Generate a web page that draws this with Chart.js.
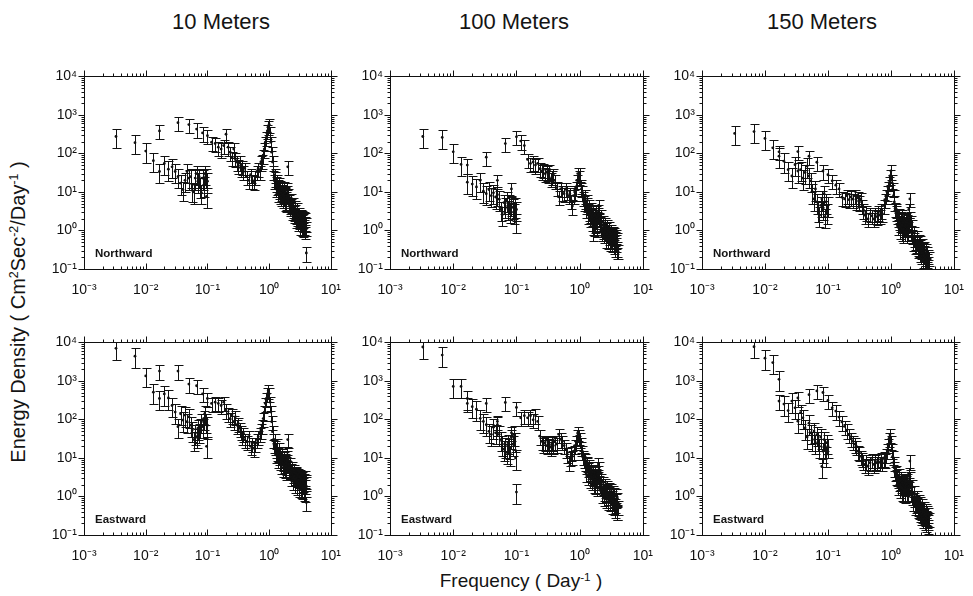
<!DOCTYPE html>
<html>
<head>
<meta charset="utf-8">
<script src="https://cdn.jsdelivr.net/npm/chart.js"></script>
<style>
  body { margin: 0; background: #fff; }
  #page { position: relative; width: 973px; height: 596px; overflow: hidden;
          font-family: "Liberation Sans", Arial, Helvetica, sans-serif; color: #141414; }
  .panel { position: absolute; }
  .title { position: absolute; top: 9px; font-size: 22px; line-height: 26px; white-space: nowrap; transform: translateX(-50%); }
  .tag { position: absolute; font-size: 11.5px; font-weight: bold; line-height: 1; white-space: nowrap; }
  #ytitle { position: absolute; left: 18px; top: 312px; font-size: 20px; white-space: nowrap;
            transform: translate(-50%, -50%) rotate(-90deg); }
  #xtitle { position: absolute; left: 521px; top: 570px; font-size: 19px; line-height: 22px; white-space: nowrap;
            transform: translateX(-50%); }
  sup { font-size: 62%; vertical-align: 0.55em; line-height: 0; }
</style>
</head>
<body>
<div id="page">
  <div class="title" style="left:221px">10 Meters</div>
  <div class="title" style="left:514px">100 Meters</div>
  <div class="title" style="left:822px">150 Meters</div>
  <div id="ytitle">Energy Density ( Cm<sup>2</sup>Sec<sup>-2</sup>/Day<sup>-1</sup> )</div>
  <div id="xtitle">Frequency ( Day<sup>-1</sup> )</div>
</div>
<script>
// tick labels
const xTickValues = [0.001, 0.01, 0.1, 1, 10];
const xTickLabels = ["10⁻³", "10⁻²", "10⁻¹", "10⁰", "10¹"];
const yTickValues = [0.1, 1, 10, 100, 1000, 10000];
const yTickLabels = ["10⁻¹", "10⁰", "10¹", "10²", "10³", "10⁴"];

// frequencies (Day^-1): fine-resolution band, coarse band, and extra high-frequency estimates
const freqA = [0.0033, 0.0067, 0.01, 0.0133, 0.0167, 0.02, 0.0233, 0.0267, 0.03, 0.0333,
  0.0367, 0.04, 0.0433, 0.0467, 0.05, 0.0533, 0.0567, 0.06, 0.0633, 0.0667,
  0.07, 0.0733, 0.0767, 0.08, 0.0833, 0.0867, 0.09, 0.0933, 0.0967, 0.1];
const freqB = [0.0167, 0.0333, 0.05, 0.0667, 0.0833, 0.1, 0.1167, 0.1333, 0.15, 0.1667,
  0.1833, 0.2, 0.2167, 0.2333, 0.25, 0.2667, 0.2833, 0.3, 0.3167, 0.3333, 0.35, 0.3667, 0.3833, 0.4,
  0.4333, 0.4667, 0.5, 0.5333, 0.5667, 0.6, 0.6333, 0.6667, 0.7, 0.7333, 0.7667, 0.8,
  0.8333, 0.8667, 0.9, 0.9333, 0.9667, 1.0, 1.0333, 1.0667, 1.1, 1.1333, 1.1667, 1.2,
  1.25, 1.3, 1.35, 1.4, 1.45, 1.5, 1.55, 1.6, 1.65, 1.7, 1.75, 1.8, 1.85, 1.9, 1.95, 2.0, 2.05,
  2.1, 2.2, 2.3, 2.4, 2.5, 2.6, 2.7, 2.8, 2.9, 3.0, 3.1, 3.2, 3.3, 3.4, 3.5, 3.6, 3.7, 3.8, 3.9, 4.0];
const freqC = [1.225, 1.275, 1.325, 1.375, 1.425, 1.475, 1.525, 1.575, 1.625, 1.675, 1.725, 1.775,
  1.825, 1.875, 1.925, 1.975, 2.15, 2.25, 2.35, 2.45, 2.55, 2.65, 2.75, 2.85, 2.95, 3.05, 3.15,
  3.25, 3.35, 3.45, 3.55, 3.65, 3.75, 3.85, 3.95];

// confidence limits (lower, upper factor)
const ciA = [0.5, 1.6];
const ciB = [0.6, 1.4];

// Northward
const north10A = [275, 190, 115, 65, 34, 55, 39, 45, 34, 25, 17, 11.5, 20, 34, 23, 25, 11, 10, 23, 30,
  19, 25, 14, 9.5, 23, 15, 30, 25, 7.7, 19];
const north10B = [385, 630, 560, 430, 340, 290, 195, 180, 145, 130, 160, 315, 145, 108, 80, 130, 72, 60, 49, 60, 41, 45, 34, 41,
  25, 20, 28, 20, 18.5, 25, 34, 41, 34, 60, 66, 90, 130, 195, 260, 385, 510, 570, 350, 195, 108, 60, 34, 20,
  23, 17, 14, 15, 11, 12.5, 9.5, 12.5, 8.5, 10.5, 7, 9.5, 5.8, 7, 12.5, 45, 8.5,
  5.8, 4.0, 4.7, 3.6, 3.0, 3.3, 2.4, 2.2, 2.7, 2.0, 1.8, 2.2, 1.6, 1.8, 1.5, 1.9, 1.3, 1.6, 1.5, 0.26];
const north10C = [28, 12, 20, 9, 16, 8, 14, 7, 11, 6.5, 13, 5.5, 9, 5, 8, 10,
  4.5, 6.5, 3.2, 5, 2.6, 4.2, 1.9, 3.6, 1.6, 2.8, 1.3, 2.5, 1.2, 2.3, 1.1, 2.1, 1.0, 2.0, 1.2];
const north100A = [275, 260, 110, 52, 18, 16, 13.5, 20, 10.5, 9, 11.5, 8, 9.5, 7.4, 8.5, 6.5, 3.5, 2.6, 5.3, 4.3,
  6.2, 3.7, 5.3, 3.2, 4.8, 4, 3, 4.3, 1.7, 3.5];
const north100B = [50, 80, 20, 180, 12, 270, 210, 160, 70, 55, 60, 50, 55, 40, 35, 38, 30, 33, 28, 35, 22, 25, 28, 20,
  13, 7.5, 12, 10, 9, 12, 10.5, 8, 9, 6, 4.3, 8, 10, 13, 20, 30, 25, 30, 15, 12, 10, 7, 5.5, 6,
  4.5, 5, 3.5, 3, 2.6, 3, 2.2, 1.3, 0.9, 2.0, 2.5, 1.8, 2.2, 1.5, 2.7, 4.5, 2.0,
  1.6, 1.3, 1.0, 1.2, 0.9, 1.1, 0.8, 1.0, 0.7, 0.9, 0.6, 0.8, 0.55, 0.7, 0.5, 0.65, 0.45, 0.55, 0.35, 0.3];
const north100C = [8, 3.5, 6, 2.5, 4.5, 2, 3.8, 1.6, 3.2, 1.2, 2.8, 1.4, 3, 1.1, 2.4, 3.2,
  2.4, 0.9, 1.7, 0.8, 1.5, 0.6, 1.3, 0.55, 1.2, 0.5, 1.0, 0.45, 0.9, 0.4, 0.85, 0.35, 0.75, 0.3, 0.6];
const north150A = [330, 370, 245, 140, 85, 63, 38, 26, 51, 35, 38, 23, 32, 47, 26, 19.5, 10, 6.6, 12, 5.5,
  3.4, 2.5, 4.5, 6.6, 3.7, 9, 2.3, 5.5, 3, 4.5];
const north150B = [110, 112, 85, 59, 35, 28, 19.5, 15, 12, 7.3, 6.6, 8, 6.3, 7.4, 6.5, 8, 5.8, 7, 5.5, 6.6, 4.5, 3.4, 2.5, 3,
  2.0, 2.7, 2.4, 2.0, 2.7, 2.3, 3, 2.5, 3.4, 2.7, 4.5, 6.3, 8, 10, 13, 17.5, 26, 35, 20, 12, 8, 5.5, 3.7, 3.0,
  2.5, 2.0, 1.7, 1.5, 1.9, 1.4, 1.6, 1.1, 1.3, 1.4, 1.2, 1.1, 1.3, 1.2, 1.5, 6.6, 1.7,
  0.95, 0.75, 0.62, 0.52, 0.44, 0.48, 0.37, 0.34, 0.4, 0.31, 0.26, 0.34, 0.22, 0.28, 0.2, 0.26, 0.18, 0.22, 0.15, 0.2];
const north150C = [3.5, 1.3, 2.6, 1.0, 2.2, 0.9, 2.4, 0.8, 1.9, 0.9, 2.0, 0.8, 1.8, 0.9, 3.5, 2.2,
  1.3, 0.5, 0.9, 0.4, 0.7, 0.33, 0.55, 0.26, 0.5, 0.22, 0.42, 0.18, 0.36, 0.15, 0.32, 0.13, 0.26, 0.12, 0.22];

// Eastward
const east10A = [7000, 4400, 1350, 510, 350, 460, 360, 230, 155, 65, 140, 96, 130, 87, 117, 71, 53, 30, 44, 36,
  59, 48, 65, 87, 65, 105, 140, 87, 20, 71];
const east10B = [1800, 1800, 830, 750, 460, 350, 260, 280, 260, 230, 280, 175, 140, 105, 130, 87, 117, 71, 78, 59, 48, 36, 44, 30,
  27, 36, 20, 24, 18, 24, 30, 36, 44, 53, 71, 105, 155, 260, 350, 460, 560, 460, 280, 155, 87, 48, 30, 22,
  20, 17, 14, 13, 11, 12, 9, 11, 7.5, 9, 6.8, 8, 6.2, 7.5, 8.5, 30, 7,
  5.5, 4.6, 5, 3.8, 4.2, 3.4, 3.9, 3.0, 3.5, 2.7, 3.2, 2.4, 2.9, 2.1, 2.6, 2.2, 2.8, 1.9, 2.3, 0.7];
const east10C = [30, 12, 22, 9, 17, 8, 14, 6.5, 12, 5.5, 10, 5, 9, 4.5, 11, 14,
  7, 3.2, 5.5, 2.5, 4.8, 2.0, 4.2, 1.8, 3.8, 1.6, 3.4, 1.5, 3.0, 1.4, 2.8, 1.3, 3.2, 1.2, 2.6];
const east100A = [7600, 4700, 720, 720, 350, 215, 185, 107, 89, 73, 49, 41, 63, 45, 73, 41, 30, 23, 17, 20.5,
  14, 25, 19, 12.6, 34, 23, 41, 28, 10, 1.3];
const east100B = [260, 260, 89, 275, 45, 205, 110, 125, 110, 125, 98, 130, 89, 37, 27, 23, 25, 21, 27, 22, 19, 25, 21, 27,
  23, 41, 31, 27, 21, 17, 12.6, 7.8, 10.3, 14, 11, 15, 21, 27, 37, 45, 37, 31, 23, 19, 15, 11, 9.4, 7.7,
  6.3, 7, 5.2, 5.7, 4.3, 4.8, 3.7, 4.3, 3.2, 3.5, 2.7, 3.2, 2.4, 2.9, 3.5, 5.7, 2.7,
  2.0, 1.7, 1.8, 1.3, 1.5, 1.2, 1.4, 1.0, 1.25, 1.0, 1.15, 0.82, 1.0, 0.74, 0.9, 0.62, 0.82, 0.56, 0.42, 0.56];
const east100C = [9, 4, 7.5, 3.3, 6.2, 2.8, 5.5, 2.4, 4.8, 2.1, 4.2, 1.9, 3.6, 1.7, 4.5, 7,
  2.8, 1.1, 2.3, 0.95, 2.0, 0.85, 1.8, 0.75, 1.6, 0.7, 1.5, 0.6, 1.3, 0.55, 1.2, 0.45, 1.1, 0.4, 0.9];
const east150A = [null, 7700, 3900, 3000, 1100, 250, 170, 300, 200, 90, 150, 110, 60, 35, 80, 45, 30, 50, 25, 40,
  30, 20, 35, 6, 15, 30, 20, 12, 25, 20];
const east150B = [300, 360, 440, 550, 500, 310, 200, 165, 115, 86, 66, 53, 40, 32, 27, 23, 20, 15, 13.5, 11, 9.5, 8.3, 6.8, 8.3,
  6.2, 7.5, 9.1, 6.8, 8.3, 7.5, 9.1, 7.7, 9.5, 7.5, 10, 9, 12, 16, 22, 32, 40, 27, 16, 11, 7.5, 5.5, 4.1, 3.4,
  3.1, 2.8, 2.3, 2.5, 2.1, 2.3, 2.0, 1.9, 1.8, 1.7, 1.9, 2.1, 1.8, 1.9, 2.2, 8.3, 1.9,
  1.3, 1.0, 0.87, 0.72, 0.61, 0.66, 0.52, 0.44, 0.49, 0.40, 0.35, 0.40, 0.30, 0.33, 0.28, 0.30, 0.25, 0.28, 0.23, 0.27];
const east150C = [4.5, 1.8, 3.6, 1.5, 3.0, 1.3, 2.8, 1.2, 2.6, 1.1, 2.5, 1.2, 2.7, 1.3, 4, 3,
  1.9, 0.7, 1.3, 0.55, 1.0, 0.45, 0.8, 0.36, 0.7, 0.3, 0.6, 0.26, 0.5, 0.22, 0.45, 0.2, 0.4, 0.18, 0.35];

const ink = "#111";
const fontFamily = '"Liberation Sans", Arial, Helvetica, sans-serif';

// plot-area boxes [left, top, width, height] in page pixels
const panels = [
  { box: [84, 73, 256, 196], a: north10A, b: north10B, c: north10C, tag: "Northward" },
  { box: [390, 73, 262, 196], a: north100A, b: north100B, c: north100C, tag: "Northward" },
  { box: [702, 73, 261, 196], a: north150A, b: north150B, c: north150C, tag: "Northward" },
  { box: [84, 339, 256, 196], a: east10A, b: east10B, c: east10C, tag: "Eastward" },
  { box: [390, 339, 262, 196], a: east100A, b: east100B, c: east100C, tag: "Eastward" },
  { box: [702, 339, 261, 196], a: east150A, b: east150B, c: east150C, tag: "Eastward" },
];
const padL = 50, padT = 12, padR = 14, padB = 36;

function toPoints(freqs, vals, ci) {
  const pts = [];
  freqs.forEach((f, i) => {
    const v = vals[i];
    if (v == null) return;
    pts.push({ x: f, y: v, lo: v * ci[0], hi: v * ci[1] });
  });
  return pts;
}

// error bars (drawn under the dots), box frame and log tick marks
const errorBars = {
  id: "errorBars",
  beforeDatasetsDraw(chart) {
    const { ctx, chartArea: ca, scales: { x, y } } = chart;
    ctx.save();
    ctx.beginPath();
    ctx.rect(ca.left, ca.top, ca.right - ca.left, ca.bottom - ca.top);
    ctx.clip();
    ctx.strokeStyle = ink;
    ctx.lineWidth = 1;
    ctx.beginPath();
    chart.data.datasets.forEach(ds => {
      ds.data.forEach(p => {
        const px = Math.round(x.getPixelForValue(p.x)) + 0.5;
        const y1 = Math.round(y.getPixelForValue(p.hi)) + 0.5;
        const y2 = Math.round(y.getPixelForValue(p.lo)) + 0.5;
        ctx.moveTo(px, y1); ctx.lineTo(px, y2);
        ctx.moveTo(px - 4, y1); ctx.lineTo(px + 5, y1);
        ctx.moveTo(px - 4, y2); ctx.lineTo(px + 5, y2);
      });
    });
    ctx.stroke();
    ctx.restore();
  },
  afterDraw(chart) {
    const { ctx, chartArea: ca, scales: { x, y } } = chart;
    const L = Math.round(ca.left) + 0.5, R = Math.round(ca.right) + 0.5;
    const T = Math.round(ca.top) + 0.5, B = Math.round(ca.bottom) + 0.5;
    ctx.save();
    ctx.strokeStyle = ink;
    ctx.lineWidth = 1;
    ctx.strokeRect(L, T, R - L, B - T);
    ctx.beginPath();
    for (let e = -3; e <= 1; e++) {
      for (let m = 1; m <= 9; m++) {
        const v = m * Math.pow(10, e);
        if (v > 10.0001) break;
        const px = Math.round(x.getPixelForValue(v)) + 0.5;
        const len = m === 1 ? 6 : 3;
        ctx.moveTo(px, T); ctx.lineTo(px, T - len);
        ctx.moveTo(px, B); ctx.lineTo(px, B - len);
      }
    }
    for (let e = -1; e <= 4; e++) {
      for (let m = 1; m <= 9; m++) {
        const v = m * Math.pow(10, e);
        if (v > 10000.1) break;
        const py = Math.round(y.getPixelForValue(v)) + 0.5;
        const len = m === 1 ? 6 : 3;
        ctx.moveTo(L, py); ctx.lineTo(L - len, py);
        ctx.moveTo(R, py); ctx.lineTo(R + len, py);
      }
    }
    ctx.stroke();
    ctx.restore();
  }
};

const page = document.getElementById("page");

panels.forEach(p => {
  const [bx, by, bw, bh] = p.box;
  const div = document.createElement("div");
  div.className = "panel";
  div.style.left = (bx - padL) + "px";
  div.style.top = (by - padT) + "px";
  const canvas = document.createElement("canvas");
  canvas.width = bw + padL + padR;
  canvas.height = bh + padT + padB;
  div.appendChild(canvas);
  page.appendChild(div);

  const tag = document.createElement("div");
  tag.className = "tag";
  tag.textContent = p.tag;
  tag.style.left = (bx + 11) + "px";
  tag.style.top = (by + bh - 21) + "px";
  page.appendChild(tag);

  new Chart(canvas, {
    type: "scatter",
    data: {
      datasets: [
        { data: toPoints(freqA, p.a, ciA) },
        { data: toPoints(freqB, p.b, ciB) },
        { data: toPoints(freqC, p.c, ciB) },
      ],
    },
    options: {
      responsive: false,
      animation: false,
      layout: { padding: { top: padT, right: padR } },
      plugins: { legend: { display: false }, tooltip: { enabled: false } },
      elements: { point: { radius: 1.4, backgroundColor: ink, borderWidth: 0 } },
      scales: {
        x: {
          type: "logarithmic", min: 0.001, max: 10,
          grid: { display: false, drawTicks: false },
          border: { display: false },
          afterBuildTicks: s => { s.ticks = xTickValues.map(v => ({ value: v })); },
          afterFit: s => { s.height = padB; },
          ticks: {
            autoSkip: false, maxRotation: 0, padding: 13, color: ink,
            font: { size: 14, family: fontFamily },
            callback: (v, i) => xTickLabels[i],
          },
        },
        y: {
          type: "logarithmic", min: 0.1, max: 10000,
          grid: { display: false, drawTicks: false },
          border: { display: false },
          afterBuildTicks: s => { s.ticks = yTickValues.map(v => ({ value: v })); },
          afterFit: s => { s.width = padL; },
          ticks: {
            autoSkip: false, padding: 7, color: ink,
            font: { size: 14, family: fontFamily },
            callback: (v, i) => yTickLabels[i],
          },
        },
      },
    },
    plugins: [errorBars],
  });
});
</script>
</body>
</html>
